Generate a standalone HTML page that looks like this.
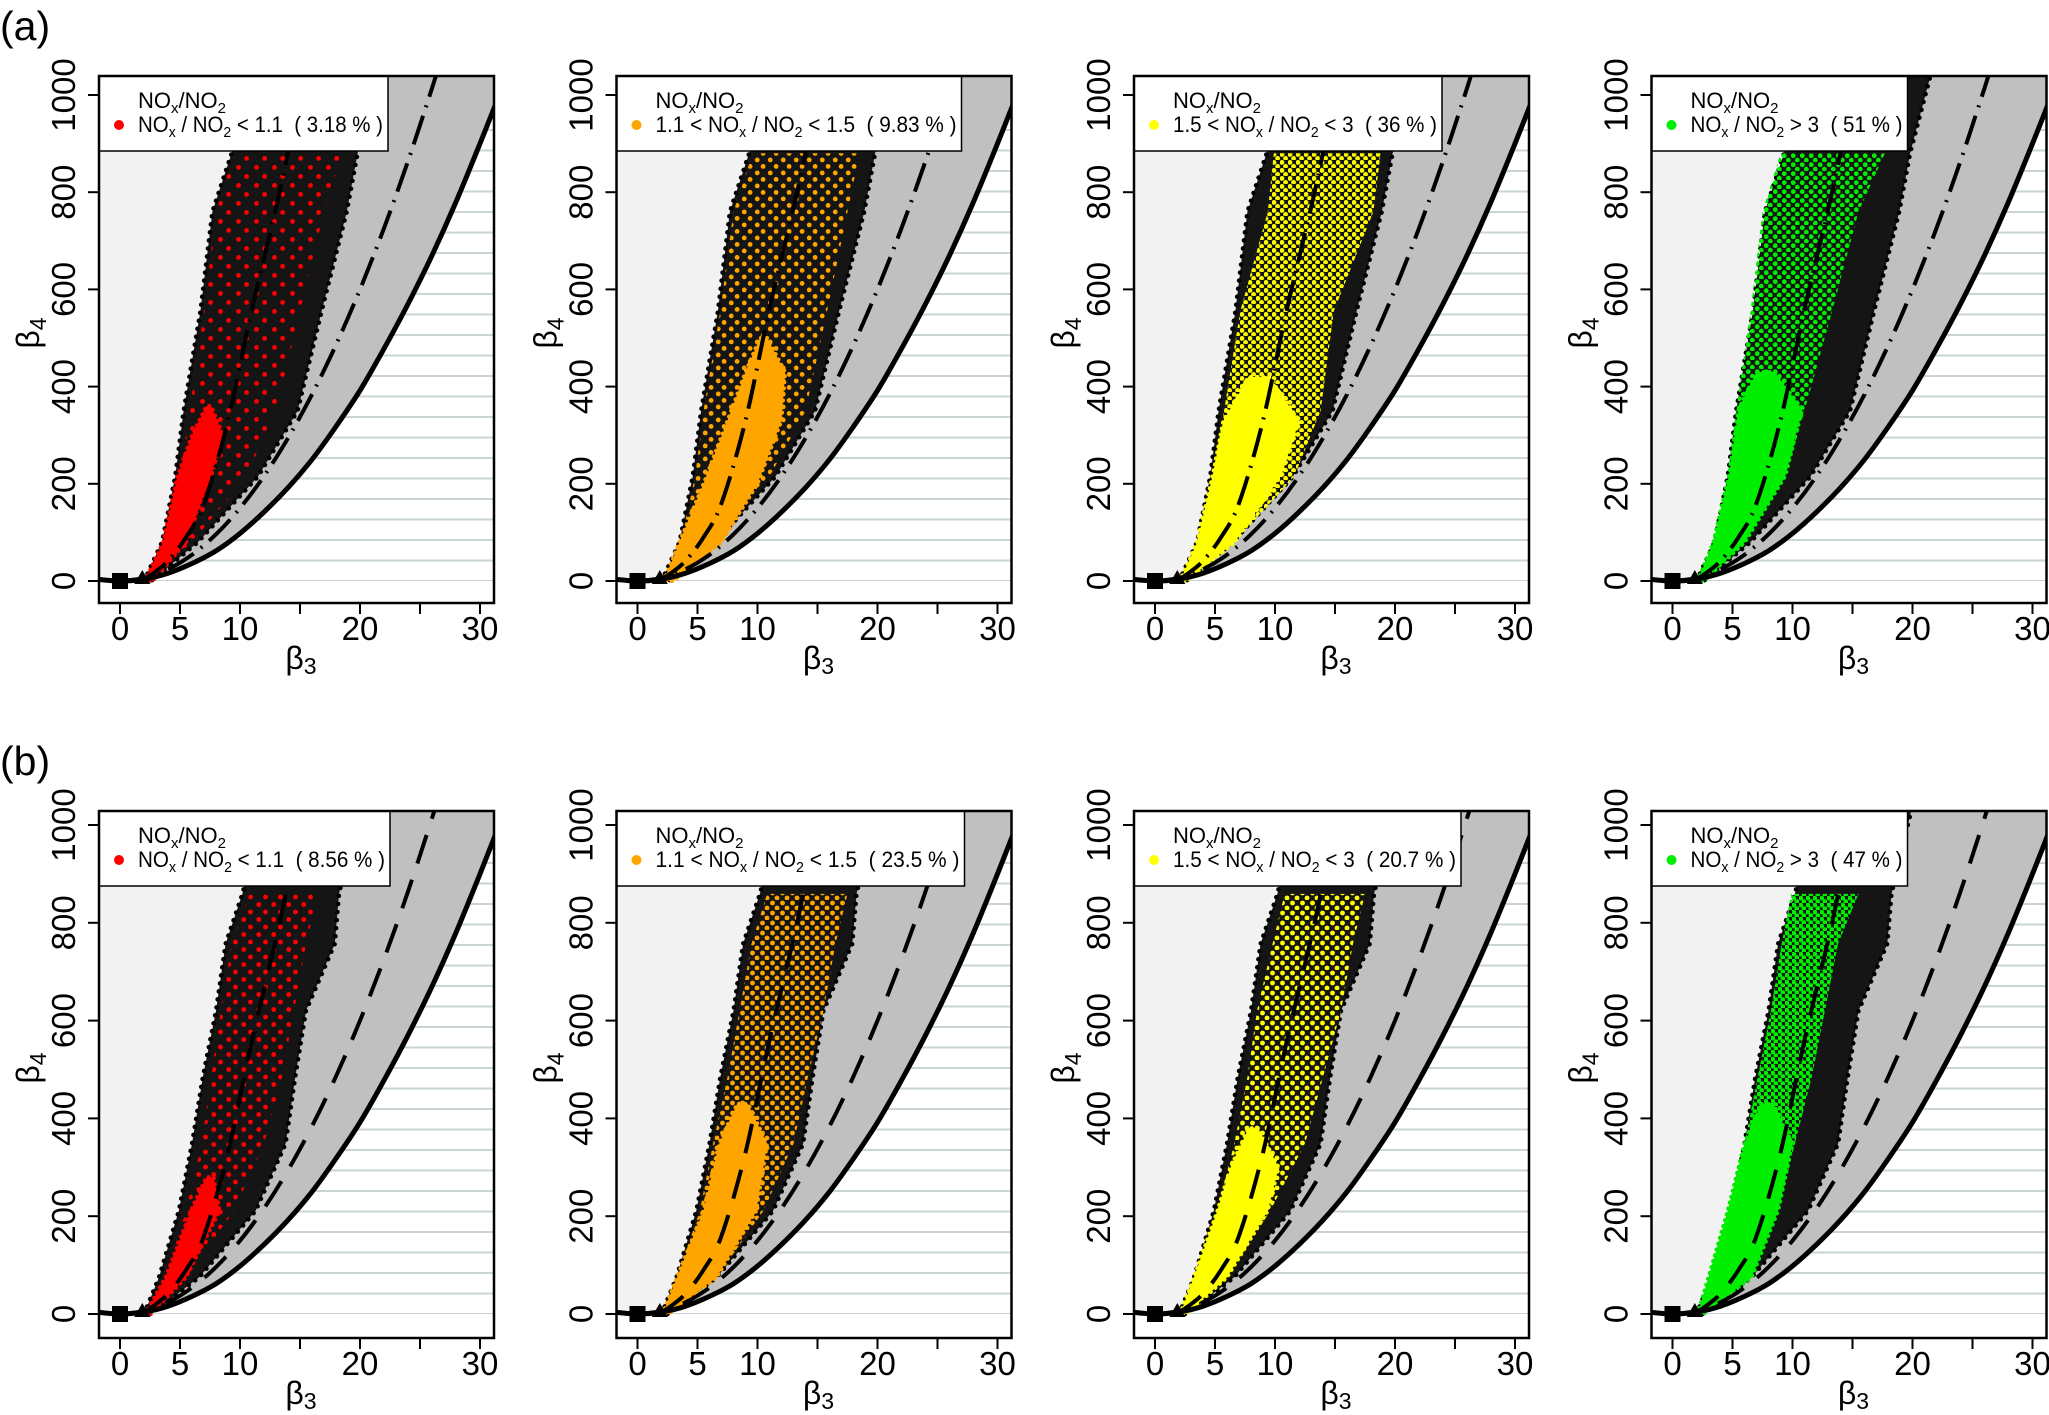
<!DOCTYPE html>
<html><head><meta charset="utf-8"><style>
html,body{margin:0;padding:0;background:#fff;}
svg{display:block;}
text{font-family:"Liberation Sans",Arial,sans-serif;}
</style></head><body>
<svg id="fig" xmlns="http://www.w3.org/2000/svg" width="2049" height="1415" viewBox="0 0 2049 1415">
<defs id="defs"></defs>
<text x="0" y="40" font-size="41">(a)</text>
<text x="0" y="775" font-size="41">(b)</text>
</svg>
<script>
// ---- theoretical curves ----
const solidB3 = [-2,0,2,4,6,8,10,12,14,16,18,20,22,24,26,28,30,32];
const solidB4 = [4,0,4,16,36,62,98,142,192,250,318,392,478,570,670,780,900,1025];
const dashB3 = [0,2,4,6,8,10,12,14,16,18,20,22,24,26,27];
const dashB4 = [0,6,24,54,96,150,216,294,384,486,600,726,864,1014,1094];
const steepB3 = [1.8,3,4.1,5.5,7,9,11,13.3,15.3];
const steepB4 = [0,20,44,90,160,330,560,800,1040];
const grayB3 = [0,2,4,6,8,10,12,14,16,18,19.5];
const grayB4 = [0,11,45,101,179,280,403,549,717,907,1065];
// ---- axis ticks ----
const yTicks = [0,200,400,600,800,1000];
const xTicks = [0,5,10,15,20,25,30];
const xTickLabels = ["0","5","10","","20","","30"];
// ---- black clouds ----
const cloudLevelsTop = [0,80,215,350,555,760,880,1040];
const blackLeftTop = [2.0,3.5,4.6,5.3,6.7,7.7,9.3,11];
const blackRightTop = [2.6,6.5,11.5,14.8,16.8,18.9,19.8,21.5];
const cloudLevelsBottom = [0,75,211,348,484,620,757,859,1040];
const blackLeftBottom = [2.0,3.25,4.9,6.0,6.9,8.0,8.8,10.2,12];
const blackRightBottom = [2.6,6.6,11.3,13.8,14.6,15.5,17.9,18.25,20];
// ---- colored groups, top row ----
const sparseLeftA1 = [2.1,3.8,5,5.8,7,8,9.5];   const sparseRightA1 = [2.6,6,10.5,13,15,17,18.5];
const sparseLeftA2 = [2.2,3.6,4.8,5.5,6.9,8,9.6]; const sparseRightA2 = [2.6,6.5,11,14,15.8,17.5,18.5];
const sparseLeftA3 = [2.1,3.5,4.8,5.75,7.1,9.4,9.9]; const sparseRightA3 = [2.6,6.6,11.6,13.8,14.9,18.2,18.8];
const sparseLeftA4 = [2.1,3.4,4.7,5.3,6.5,7.5,9]; const sparseRightA4 = [2.6,6,9.4,11,13.3,15.5,17.7];
const coreLevelsA1 = [0,80,216,300,360]; const coreLeftA1 = [2.1,3.6,4.8,6.0,7.2]; const coreRightA1 = [2.7,5.5,7.6,8.6,7.6];
const coreLevelsA2 = [0,80,200,330,430,500]; const coreLeftA2 = [2.2,3.5,5.5,7.5,9,10.2]; const coreRightA2 = [3,7,10,12,12.3,10.8];
const coreLevelsA3 = [0,79,216,330,420]; const coreLeftA3 = [2.1,3.5,4.8,5.7,7.8]; const coreRightA3 = [2.6,6.6,10.5,12,9.5];
const coreLevelsA4 = [0,79,216,353,430]; const coreLeftA4 = [2.1,3.4,4.7,5.5,7]; const coreRightA4 = [2.6,6,9.4,10.8,8.5];
// ---- colored groups, bottom row ----
const sparseLeftB1 = [2.1,3.8,5.5,6.8,7.6,8.4,9.3,10.8]; const sparseRightB1 = [2.6,5.5,9.5,12,13.5,14.5,15.5,16.5];
const sparseLeftB2 = [2.1,3.3,5.2,6.3,7.5,8.5,9.5,10.8]; const sparseRightB2 = [2.6,6.6,10.5,13,14.2,15.5,16.5,17.5];
const sparseLeftB3 = [2.1,3.3,5.2,6.6,7.7,8.5,9.8,10.8]; const sparseRightB3 = [2.6,6,9.6,12.5,14,15.5,16.5,17.5];
const sparseLeftB4 = [2.1,3,4.6,6,7.1,8.2,9.1,9.9]; const sparseRightB4 = [2.6,6.6,8.8,10.2,11.6,12.7,13.8,15.5];
const coreLevelsB1 = [0,75,211,280]; const coreLeftB1 = [2.1,3.8,5.9,7.2]; const coreRightB1 = [2.6,5.5,8.3,7.8];
const coreLevelsB2 = [0,75,211,348,430]; const coreLeftB2 = [2.1,3.3,5.5,6.8,8.3]; const coreRightB2 = [2.6,6.6,9.9,10.8,9.2];
const coreLevelsB3 = [0,75,211,300,380]; const coreLeftB3 = [2.1,3.25,5.2,6.3,7.8]; const coreRightB3 = [2.6,6,9.4,10.3,8.6];
const coreLevelsB4 = [0,75,211,348,430]; const coreLeftB4 = [2.1,3,4.6,6,7.4]; const coreRightB4 = [2.6,6.6,8.8,10,8.4];
// ---- legend ----
const legendPrefix = ["","1.1 < ","1.5 < ",""];
const legendOp = ["<","<","<",">"];
const legendThresh = ["1.1","1.5","3","3"];
const legendPctTop = ["3.18","9.83","36","51"];
const legendPctBottom = ["8.56","23.5","20.7","47"];
const groupColors = ["#ff0000","#ffa500","#ffff00","#00ee00"];
const legendWidthTop = [289,345,308,256];
const legendWidthBottom = [291,348,327,256];
const sparseSpacingTop = [18,13,8,9];
const sparseSpacingBottom = [15,10,10,7];

const SVGNS = "http://www.w3.org/2000/svg";
const svg = document.getElementById('fig');
const defs = document.getElementById('defs');
const colLefts = [99,616.5,1134,1651.5];
const rowTops = [76,811];
const rowY0 = [581,1314];
const rowYs = [0.486,0.489];
const BW = 395, BH = 527;

function mk(tag, attrs, parent){
  const e = document.createElementNS(SVGNS, tag);
  for (const k in attrs) e.setAttribute(k, attrs[k]);
  (parent||svg).appendChild(e);
  return e;
}
function smooth(pts){
  let d = `M${pts[0][0].toFixed(1)},${pts[0][1].toFixed(1)}`;
  for (let i=0;i<pts.length-1;i++){
    const p0 = pts[i-1]||pts[i], p1 = pts[i], p2 = pts[i+1], p3 = pts[i+2]||pts[i+1];
    const c1x = p1[0]+(p2[0]-p0[0])/6, c1y = p1[1]+(p2[1]-p0[1])/6;
    const c2x = p2[0]-(p3[0]-p1[0])/6, c2y = p2[1]-(p3[1]-p1[1])/6;
    d += `C${c1x.toFixed(1)},${c1y.toFixed(1)} ${c2x.toFixed(1)},${c2y.toFixed(1)} ${p2[0].toFixed(1)},${p2[1].toFixed(1)}`;
  }
  return d;
}
function envelope(sx, sy, levels, left, right){
  const pts = [];
  for (let i=0;i<levels.length;i++) pts.push([sx(left[i]), sy(levels[i])]);
  for (let i=levels.length-1;i>=0;i--) pts.push([sx(right[i]), sy(levels[i])]);
  return 'M' + pts.map(p=>p[0].toFixed(1)+','+p[1].toFixed(1)).join('L') + 'Z';
}

const sparseLefts = [[sparseLeftA1,sparseLeftA2,sparseLeftA3,sparseLeftA4],[sparseLeftB1,sparseLeftB2,sparseLeftB3,sparseLeftB4]];
const sparseRights = [[sparseRightA1,sparseRightA2,sparseRightA3,sparseRightA4],[sparseRightB1,sparseRightB2,sparseRightB3,sparseRightB4]];
const coreLevels = [[coreLevelsA1,coreLevelsA2,coreLevelsA3,coreLevelsA4],[coreLevelsB1,coreLevelsB2,coreLevelsB3,coreLevelsB4]];
const coreLefts = [[coreLeftA1,coreLeftA2,coreLeftA3,coreLeftA4],[coreLeftB1,coreLeftB2,coreLeftB3,coreLeftB4]];
const coreRights = [[coreRightA1,coreRightA2,coreRightA3,coreRightA4],[coreRightB1,coreRightB2,coreRightB3,coreRightB4]];

for (let r=0;r<2;r++){
  for (let c=0;c<4;c++){
    const L = colLefts[c], T = rowTops[r], y0 = rowY0[r], ys = rowYs[r];
    const sx = b => L + 21 + b*12;
    const sy = v => y0 - v*ys;
    const id = `p${r}${c}`;
    const g = mk('g', {});
    
    

    const cp = mk('clipPath', {id: 'clip'+id}, defs);
    mk('rect', {x:L, y:T, width:BW, height:BH}, cp);
    const plot = mk('g', {'clip-path': `url(#clip${id})`}, g);
    
    

    const bg = mk('rect', {x:L, y:T, width:BW, height:BH, fill:'#f2f2f2'}, plot);
    
    

    const gp = grayB3.map((b,i)=>[sx(b), sy(grayB4[i])]);
    const grayD = smooth(gp) + `L${L+BW+5},${T-5}L${L+BW+5},${y0}L${sx(0)},${y0}Z`;
    const gray = mk('path', {d:grayD, fill:'#c0c0c0'}, plot);
    
    

    const sp = solidB3.map((b,i)=>[sx(b), sy(solidB4[i])]);
    const whiteD = smooth(sp.slice(1)) + `L${L+BW+5},${y0}L${sx(0)},${y0}Z`;
    const white = mk('path', {d:whiteD, fill:'#ffffff'}, plot);
    
    
    const below = mk('rect', {x:L, y:y0, width:BW, height:T+BH-y0, fill:'#ffffff'}, plot);
    
    

    const hc = mk('clipPath', {id: 'hclip'+id}, defs);
    mk('path', {d: whiteD}, hc);
    const hg = mk('g', {'clip-path': `url(#hclip${id})`, stroke:'#c9d4d4', 'stroke-width':2}, plot);
    
    
    for (let y=y0; y>T; y-=20.5){
      mk('line', {x1:L, x2:L+BW, y1:y.toFixed(1), y2:y.toFixed(1)}, hg);
    }

    const lv = r===0 ? cloudLevelsTop : cloudLevelsBottom;
    const bl = r===0 ? blackLeftTop : blackLeftBottom;
    const br = r===0 ? blackRightTop : blackRightBottom;
    const blackD = envelope(sx, sy, lv, bl, br);
    const bc = mk('path', {d:blackD, fill:'#151515', stroke:'#000', 'stroke-width':4.5, 'stroke-dasharray':'0.1 8', 'stroke-linecap':'round', 'stroke-linejoin':'round'}, plot);
    
    

    const col = groupColors[c];
    const s = (r===0 ? sparseSpacingTop : sparseSpacingBottom)[c];
    const pat = mk('pattern', {id:'pat'+id, width:s, height:s, patternUnits:'userSpaceOnUse'}, defs);
    mk('circle', {cx:s*0.25, cy:s*0.3, r:2.4, fill:col}, pat);
    mk('circle', {cx:s*0.7, cy:s*0.8, r:2.4, fill:col}, pat);
    const slv = lv.slice(0, sparseLefts[r][c].length);
    const sparseD = envelope(sx, sy, slv, sparseLefts[r][c], sparseRights[r][c]);
    const spr = mk('path', {d:sparseD, fill:`url(#pat${id})`}, plot);
    
    
    const coreD = envelope(sx, sy, coreLevels[r][c], coreLefts[r][c], coreRights[r][c]);
    const core = mk('path', {d:coreD, fill:col, stroke:col, 'stroke-width':4, 'stroke-dasharray':'0.1 6', 'stroke-linecap':'round', 'stroke-linejoin':'round'}, plot);
    
    

    const solid = mk('path', {d:smooth(sp), fill:'none', stroke:'#000', 'stroke-width':5}, plot);
    
    
    const dashPat = r===0 ? '30 9 2 9' : '30 17';
    const dp = dashB3.map((b,i)=>[sx(b), sy(dashB4[i])]);
    const dash = mk('path', {d:smooth(dp), fill:'none', stroke:'#000', 'stroke-width':4, 'stroke-dasharray':dashPat}, plot);
    
    
    const stp = steepB3.map((b,i)=>[sx(b), sy(steepB4[i])]);
    const steep = mk('path', {d:smooth(stp), fill:'none', stroke:'#000', 'stroke-width':4, 'stroke-dasharray':dashPat}, plot);
    
    

    const sq = mk('rect', {x:sx(0)-8, y:y0-8, width:16, height:16, fill:'#000'}, plot);
    
    
    const tx = sx(1.86);
    const tri = mk('path', {d:`M${tx-8},${y0+3}L${tx+8},${y0+3}L${tx},${y0-11}Z`, fill:'#000'}, plot);
    
    

    const lw = (r===0 ? legendWidthTop : legendWidthBottom)[c];
    const lg = mk('g', {}, g);
    
    
    mk('rect', {x:L, y:T, width:lw, height:75, fill:'#fff', stroke:'#000', 'stroke-width':1.5}, lg);
    const t1 = mk('text', {x:L+39, y:T+32, 'font-size':22}, lg);
    
    
    t1.innerHTML = 'NO<tspan font-size="15" dy="5">x</tspan><tspan dy="-5">/NO</tspan><tspan font-size="15" dy="5">2</tspan>';
    const ld = mk('circle', {cx:L+20, cy:T+49, r:5, fill:col}, lg);
    
    
    const pct = (r===0 ? legendPctTop : legendPctBottom)[c];
    const t2 = mk('text', {x:L+39, y:T+56, 'font-size':22, textLength:lw-44, lengthAdjust:'spacingAndGlyphs'}, lg);
    
    
    t2.innerHTML = `${legendPrefix[c]}NO<tspan font-size="15" dy="5">x</tspan><tspan dy="-5"> / NO</tspan><tspan font-size="15" dy="5">2</tspan><tspan dy="-5"> ${legendOp[c]===">"?"&gt;":"&lt;"} ${legendThresh[c]}&#160;&#160;(&#160;${pct}&#160;%&#160;)</tspan>`;

    const box = mk('rect', {x:L, y:T, width:BW, height:BH, fill:'none', stroke:'#000', 'stroke-width':2.5}, g);
    
    

    const ya = mk('g', {}, g);
    
    
    yTicks.forEach(v=>{
      mk('line', {x1:L-11, x2:L, y1:sy(v), y2:sy(v), stroke:'#000', 'stroke-width':2}, ya);
      const tl = mk('text', {x:0, y:0, 'font-size':33, 'text-anchor':'middle', transform:`translate(${L-24},${sy(v)}) rotate(-90)`}, ya);
      
      
      tl.textContent = String(v);
    });
    const yt = mk('text', {x:0, y:0, 'font-size':32, 'text-anchor':'middle', transform:`translate(${L-60},${T+257}) rotate(-90)`}, ya);
    
    
    yt.innerHTML = 'β<tspan font-size="23" dy="7">4</tspan>';

    const xa = mk('g', {}, g);
    
    
    const bot = T+BH;
    xTicks.forEach((v,i)=>{
      mk('line', {x1:sx(v), x2:sx(v), y1:bot, y2:bot+11, stroke:'#000', 'stroke-width':2}, xa);
      if (xTickLabels[i]){
        const tl = mk('text', {x:sx(v), y:bot+37, 'font-size':33, 'text-anchor':'middle'}, xa);
        
        
        tl.textContent = xTickLabels[i];
      }
    });
    const xt = mk('text', {x:L+202, y:bot+66, 'font-size':32, 'text-anchor':'middle'}, xa);
    
    
    xt.innerHTML = 'β<tspan font-size="23" dy="5">3</tspan>';
  }
}
</script>
</body></html>
